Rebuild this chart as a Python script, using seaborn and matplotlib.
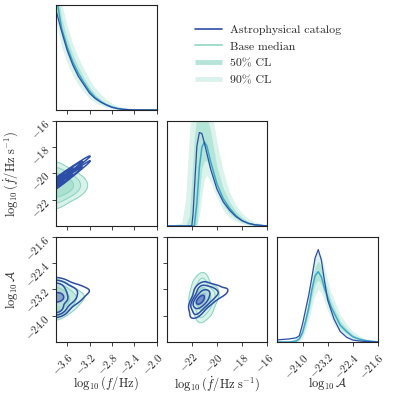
import numpy as np
import matplotlib
matplotlib.use("Agg")
import matplotlib.pyplot as plt
from matplotlib.colors import ListedColormap, LinearSegmentedColormap
from matplotlib.lines import Line2D
import seaborn as sns

# colours
CAT = "#2d4ea6"
MED = "#3aa9c9"
MINT = "#8fd7c3"
CL50 = "#b4e5d7"
CL90 = "#dcf2ec"

# axis ranges and ticks
f_lim = (-3.8, -2.0)
fd_lim = (-24.0, -16.0)
a_lim = (-24.8, -21.6)
f_ticks = [-3.6, -3.2, -2.8, -2.4, -2.0]
fd_ticks = [-22, -20, -18, -16]
a_ticks = [-24.0, -23.2, -22.4, -21.6]
f_labels = [r"$-3.6$", r"$-3.2$", r"$-2.8$", r"$-2.4$", r"$-2.0$"]
fd_labels = [r"$-22$", r"$-20$", r"$-18$", r"$-16$"]
a_labels = [r"$-24.0$", r"$-23.2$", r"$-22.4$", r"$-21.6$"]

# 1D marginal: log10 f
f_x = [-3.8, -3.7, -3.6, -3.5, -3.4, -3.3, -3.2, -3.1, -3.0, -2.9, -2.8, -2.7, -2.6, -2.5, -2.4, -2.0]
f_cat = [0.95, 0.75, 0.57, 0.43, 0.32, 0.24, 0.16, 0.11, 0.075, 0.048, 0.025, 0.013, 0.006, 0.003, 0.001, 0.0]
f_med = [1.10, 0.78, 0.60, 0.46, 0.35, 0.26, 0.18, 0.12, 0.080, 0.050, 0.030, 0.015, 0.007, 0.003, 0.001, 0.0]
f_lo50 = [0.98, 0.70, 0.53, 0.40, 0.30, 0.22, 0.15, 0.10, 0.065, 0.040, 0.022, 0.010, 0.004, 0.002, 0.0, 0.0]
f_hi50 = [1.25, 0.88, 0.68, 0.53, 0.41, 0.31, 0.22, 0.15, 0.10, 0.065, 0.040, 0.022, 0.011, 0.005, 0.002, 0.0]
f_lo90 = [0.85, 0.60, 0.45, 0.33, 0.24, 0.17, 0.11, 0.07, 0.045, 0.025, 0.012, 0.005, 0.002, 0.0, 0.0, 0.0]
f_hi90 = [1.45, 1.02, 0.80, 0.63, 0.50, 0.39, 0.29, 0.21, 0.15, 0.10, 0.065, 0.040, 0.024, 0.013, 0.006, 0.0]

# 1D marginal: log10 fdot
fd_x = [-24.0, -22.8, -22.5, -22.2, -22.0, -21.9, -21.8, -21.6, -21.4, -21.2, -21.0,
        -20.8, -20.5, -20.0, -19.5, -19.0, -18.5, -18.0, -17.5, -17.0, -16.0]
fd_cat = [0, 0, 0, 0, 0, 0.12, 0.34, 0.76, 0.89, 0.88, 0.79, 0.69, 0.54, 0.35, 0.23, 0.15, 0.09, 0.05, 0.025, 0.012, 0]
fd_med = [0, 0, 0, 0, 0, 0, 0, 0.22, 0.56, 0.75, 0.80, 0.76, 0.61, 0.40, 0.26, 0.17, 0.10, 0.05, 0.025, 0.01, 0]
fd_lo50 = [0, 0, 0, 0, 0, 0, 0, 0.02, 0.30, 0.55, 0.62, 0.62, 0.52, 0.33, 0.20, 0.12, 0.07, 0.035, 0.015, 0.005, 0]
fd_hi50 = [0, 0, 0, 0.10, 0.45, 0.65, 0.85, 1.05, 1.15, 1.12, 1.08, 1.04, 0.90, 0.56, 0.36, 0.23, 0.14, 0.08, 0.04, 0.02, 0]
fd_lo90 = [0, 0, 0, 0, 0, 0, 0, 0, 0.10, 0.30, 0.45, 0.48, 0.42, 0.27, 0.15, 0.08, 0.045, 0.02, 0.008, 0, 0]
fd_hi90 = [0, 0.03, 0.25, 0.85, 1.20, 1.30, 1.40, 1.50, 1.50, 1.50, 1.45, 1.35, 1.15, 0.80, 0.52, 0.32, 0.20, 0.12, 0.07, 0.04, 0]

# 1D marginal: log10 A
a_x = [-24.8, -24.4, -24.2, -24.1, -24.0, -23.9, -23.8, -23.7, -23.6, -23.5, -23.4,
       -23.3, -23.2, -23.1, -23.0, -22.8, -22.6, -22.4, -22.2, -22.0, -21.6]
a_cat = [0.02, 0.03, 0.04, 0.06, 0.17, 0.31, 0.45, 0.62, 0.80, 0.88, 0.78, 0.58, 0.40, 0.31, 0.22, 0.10, 0.045, 0.018, 0.01, 0.005, 0.0]
a_med = [0.0, 0.0, 0.01, 0.03, 0.09, 0.20, 0.33, 0.50, 0.63, 0.67, 0.62, 0.51, 0.43, 0.34, 0.28, 0.16, 0.10, 0.05, 0.028, 0.014, 0.0]
a_lo50 = [0.0, 0.0, 0.005, 0.02, 0.07, 0.16, 0.28, 0.43, 0.55, 0.59, 0.55, 0.45, 0.37, 0.29, 0.23, 0.13, 0.08, 0.04, 0.02, 0.01, 0.0]
a_hi50 = [0.0, 0.005, 0.02, 0.05, 0.12, 0.25, 0.40, 0.58, 0.72, 0.77, 0.72, 0.60, 0.50, 0.40, 0.33, 0.20, 0.13, 0.07, 0.04, 0.02, 0.0]
a_lo90 = [0.0, 0.0, 0.0, 0.01, 0.04, 0.11, 0.21, 0.34, 0.45, 0.50, 0.47, 0.38, 0.30, 0.23, 0.17, 0.09, 0.05, 0.02, 0.01, 0.0, 0.0]
a_hi90 = [0.0, 0.01, 0.04, 0.08, 0.17, 0.32, 0.49, 0.68, 0.82, 0.86, 0.82, 0.70, 0.59, 0.48, 0.40, 0.26, 0.17, 0.10, 0.06, 0.03, 0.0]

# 2D: weighted sample points (f, fdot)
cat_ffd_x = [-3.85, -3.85, -3.75, -3.75, -3.65, -3.65, -3.55, -3.55, -3.45, -3.45, -3.35, -3.35, -3.25, -3.25, -3.15, -3.15]
cat_ffd_y = [-20.65, -21.15, -20.35, -20.85, -20.05, -20.55, -19.75, -20.20, -19.45, -19.90, -19.15, -19.55, -18.85, -19.25, -18.60, -18.90]
cat_ffd_w = [8, 8, 7, 7, 6, 6, 5, 5, 3.5, 3.5, 2.5, 2.5, 1.5, 1.5, 0.8, 0.8]
base_ffd_x = [-3.85, -3.85, -3.85, -3.85, -3.85, -3.70, -3.70, -3.70, -3.55, -3.55, -3.55, -3.40, -3.40, -3.25]
base_ffd_y = [-20.9, -20.1, -21.7, -19.4, -22.4, -20.9, -20.1, -21.7, -20.5, -21.3, -20.9, -20.6, -21.2, -20.9]
base_ffd_w = [8, 5, 5, 2, 2, 6, 3.5, 3.5, 3, 3, 3, 1.8, 1.8, 1.2]

# 2D: (f, A)
cat_fa_x = [-3.85, -3.85, -3.85, -3.70, -3.70, -3.70, -3.55, -3.55, -3.40, -3.40, -3.25, -3.12]
cat_fa_y = [-23.05, -23.45, -23.85, -23.10, -23.45, -23.80, -23.20, -23.55, -23.20, -23.45, -23.25, -23.22]
cat_fa_w = [4, 6, 4, 3.5, 4, 3.5, 2.5, 2.5, 1.5, 1.5, 1, 0.6]
base_fa_x = [-3.85, -3.85, -3.85, -3.70, -3.70, -3.70, -3.55, -3.55, -3.40, -3.25]
base_fa_y = [-23.15, -23.50, -23.90, -23.20, -23.50, -23.80, -23.35, -23.65, -23.45, -23.40]
base_fa_w = [4, 6, 4, 3, 4, 3, 2.5, 2.5, 1.5, 0.7]

# 2D: (fdot, A)
cat_fda_x = [-21.5, -21.3, -21.6, -21.3, -20.8, -20.9, -20.2, -20.3, -19.6, -19.2]
cat_fda_y = [-23.6, -23.45, -23.9, -23.15, -23.25, -23.6, -23.25, -23.45, -23.3, -23.25]
cat_fda_w = [6, 5, 3, 3, 3, 2.5, 2, 1.5, 1.2, 0.8]
base_fda_x = [-21.2, -21.8, -20.5, -21.1, -21.3, -20.0, -21.7, -20.6, -21.0]
base_fda_y = [-23.5, -23.5, -23.4, -22.95, -23.95, -23.3, -23.05, -23.85, -23.45]
base_fda_w = [6, 3, 3, 3, 3, 1.2, 1.5, 1.5, 4]

sigma_levels = [0.135, 0.325, 0.607, 0.882]

sns.set_style("ticks")
plt.rcParams["font.family"] = "serif"
plt.rcParams["font.serif"] = ["cmr10"]
plt.rcParams["mathtext.fontset"] = "cm"
plt.rcParams["axes.unicode_minus"] = False
plt.rcParams["axes.formatter.use_mathtext"] = True


def style_axes(ax):
    for s in ax.spines.values():
        s.set_visible(True)
        s.set_color("#222222")
        s.set_linewidth(0.8)
    ax.tick_params(direction="out", length=3, width=0.6, color="#222222", labelsize=8)


def draw_diag(ax, x, cat, med, lo50, hi50, lo90, hi90, lim, ticks):
    ax.fill_between(x, lo90, hi90, color=CL90, lw=0)
    ax.fill_between(x, lo50, hi50, color=CL50, lw=0)
    sns.lineplot(x=x, y=med, ax=ax, color=MED, lw=1.1)
    sns.lineplot(x=x, y=cat, ax=ax, color=CAT, lw=0.9)
    ax.set_xlim(lim)
    ax.set_ylim(0, 1)
    ax.set_xticks(ticks)
    ax.set_xticklabels([])
    ax.set_yticks([])
    ax.set_xlabel("")
    ax.set_ylabel("")


def draw_pair(ax, cx, cy, cw, bx, by, bw, xlim, ylim, cat_bw, base_bw):
    base_cmap = ListedColormap(["#dbf2eb", "#c3eadf", "#ace1d2"])
    sns.kdeplot(x=bx, y=by, weights=bw, ax=ax, fill=True, levels=[0.135, 0.325, 0.607, 1.0],
                cmap=base_cmap, bw_adjust=base_bw, gridsize=150, cut=4)
    sns.kdeplot(x=bx, y=by, weights=bw, ax=ax, levels=[0.135, 0.325, 0.607],
                color=MINT, linewidths=0.8, bw_adjust=base_bw, gridsize=150, cut=4)
    shade = LinearSegmentedColormap.from_list("shade", [(1, 1, 1, 0), (0.24, 0.36, 0.69, 0.85)])
    sns.kdeplot(x=cx, y=cy, weights=cw, ax=ax, fill=True, levels=[0.6, 0.7, 0.8, 0.9, 1.0],
                cmap=shade, bw_adjust=cat_bw, gridsize=150, cut=4)
    sns.kdeplot(x=cx, y=cy, weights=cw, ax=ax, levels=sigma_levels,
                color=CAT, linewidths=1.1, bw_adjust=cat_bw, gridsize=150, cut=4)
    ax.set_xlim(xlim)
    ax.set_ylim(ylim)
    ax.set_xlabel("")
    ax.set_ylabel("")


fig, axes = plt.subplots(3, 3, figsize=(3.96, 3.96), dpi=100)
fig.subplots_adjust(left=0.1414, right=0.9545, bottom=0.1364, top=0.9874, wspace=0.1, hspace=0.105)

for ax in [axes[0, 1], axes[0, 2], axes[1, 2]]:
    ax.axis("off")

draw_diag(axes[0, 0], f_x, f_cat, f_med, f_lo50, f_hi50, f_lo90, f_hi90, f_lim, f_ticks)
draw_diag(axes[1, 1], fd_x, fd_cat, fd_med, fd_lo50, fd_hi50, fd_lo90, fd_hi90, fd_lim, fd_ticks)
draw_diag(axes[2, 2], a_x, a_cat, a_med, a_lo50, a_hi50, a_lo90, a_hi90, a_lim, a_ticks)

draw_pair(axes[1, 0], cat_ffd_x, cat_ffd_y, cat_ffd_w, base_ffd_x, base_ffd_y, base_ffd_w,
          f_lim, fd_lim, 0.6, 1.15)
draw_pair(axes[2, 0], cat_fa_x, cat_fa_y, cat_fa_w, base_fa_x, base_fa_y, base_fa_w,
          f_lim, a_lim, 0.75, 1.0)
draw_pair(axes[2, 1], cat_fda_x, cat_fda_y, cat_fda_w, base_fda_x, base_fda_y, base_fda_w,
          fd_lim, a_lim, 0.9, 1.0)

# ticks and labels
axes[1, 0].set_xticks(f_ticks)
axes[1, 0].set_xticklabels([])
axes[1, 0].set_yticks(fd_ticks, labels=fd_labels, rotation=45, ha="right", rotation_mode="anchor")
axes[2, 0].set_xticks(f_ticks, labels=f_labels, rotation=45, ha="right", rotation_mode="anchor")
axes[2, 0].set_yticks(a_ticks, labels=a_labels, rotation=45, ha="right", rotation_mode="anchor")
axes[2, 1].set_xticks(fd_ticks, labels=fd_labels, rotation=45, ha="right", rotation_mode="anchor")
axes[2, 1].set_yticks(a_ticks)
axes[2, 1].set_yticklabels([])
axes[2, 2].set_xticks(a_ticks, labels=a_labels, rotation=45, ha="right", rotation_mode="anchor")

for ax in [axes[0, 0], axes[1, 0], axes[1, 1], axes[2, 0], axes[2, 1], axes[2, 2]]:
    style_axes(ax)

fd_name = r"$\log_{10}(\dot{f}/\mathrm{Hz}\;\mathrm{s}^{-1})$"
axes[2, 0].set_xlabel(r"$\log_{10}(f/\mathrm{Hz})$", fontsize=9)
axes[2, 1].set_xlabel(fd_name, fontsize=9)
axes[2, 2].set_xlabel(r"$\log_{10}\mathcal{A}$", fontsize=9)
axes[1, 0].set_ylabel(fd_name, fontsize=9)
axes[2, 0].set_ylabel(r"$\log_{10}\mathcal{A}$", fontsize=9)
for ax in [axes[2, 0], axes[2, 1], axes[2, 2]]:
    ax.xaxis.set_label_coords(0.5, -0.31)
for ax in [axes[1, 0], axes[2, 0]]:
    ax.yaxis.set_label_coords(-0.36, 0.5)

handles = [
    Line2D([0], [0], color=CAT, lw=1.2),
    Line2D([0], [0], color=MINT, lw=1.2),
    Line2D([0], [0], color=CL50, lw=3.5, solid_capstyle="butt"),
    Line2D([0], [0], color=CL90, lw=3.5, solid_capstyle="butt"),
]
labels = ["Astrophysical catalog", "Base median", "50% CL", "90% CL"]
fig.legend(handles, labels, loc="upper left", bbox_to_anchor=(0.465, 0.965), frameon=False,
           fontsize=8.5, handlelength=2.3, handletextpad=0.7, labelspacing=0.55)

fig.savefig("out.png", dpi=100)
